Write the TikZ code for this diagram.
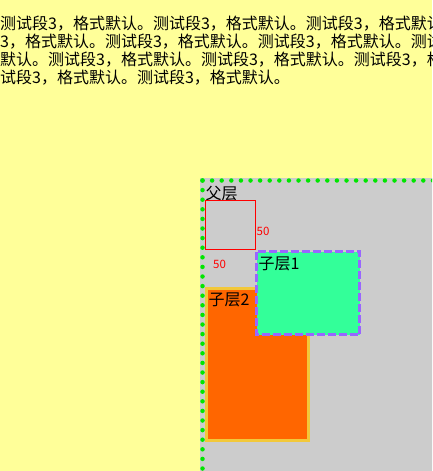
\documentclass[tikz,border=0pt]{standalone}
\usepackage{fontspec}
\newfontfamily\cjk{Noto Sans CJK SC}
\definecolor{bgyellow}{HTML}{FFFF99}
\definecolor{parentgray}{HTML}{CCCCCC}
\definecolor{dotgreen}{RGB}{0,230,0}
\definecolor{springgreen}{HTML}{33FF99}
\definecolor{dashpurple}{HTML}{9966FF}
\definecolor{layerorange}{HTML}{FF6600}
\definecolor{goldborder}{HTML}{F2C83A}
\definecolor{markred}{HTML}{FF0000}
\tikzset{
  bodytext/.style={anchor=base west,inner sep=0pt,font=\cjk\fontsize{16}{18}\selectfont,text=black},
  layertext/.style={anchor=base west,inner sep=0pt,font=\cjk\fontsize{16}{18}\selectfont,text=black},
  dimtext/.style={anchor=base west,inner sep=0pt,font=\cjk\fontsize{11.5}{13}\selectfont,text=markred},
  dotborder/.style={draw=dotgreen,line width=4.5pt,line cap=round,dash pattern=on 0pt off 9.6pt},
  dashborder/.style={draw=dashpurple,line width=3pt,dash pattern=on 8pt off 3pt},
}
\begin{document}
\begin{tikzpicture}[x=1pt,y=-1pt]
\useasboundingbox (0,0) rectangle (432,471);
\clip (0,0) rectangle (432,471);
\fill[bgyellow] (0,0) rectangle (432,471);
% body paragraph
\node[bodytext] (line1) at (0,29) {测试段3，格式默认。测试段3，格式默认。测试段3，格式默认。测试段};
\node[bodytext] (line2) at (0,47) {3，格式默认。测试段3，格式默认。测试段3，格式默认。测试段3，格式};
\node[bodytext] (line3) at (0,65) {默认。测试段3，格式默认。测试段3，格式默认。测试段3，格式默认。测};
\node[bodytext] (line4) at (0,83) {试段3，格式默认。测试段3，格式默认。};
% parent layer
\fill[parentgray] (200,178) rectangle (440,480);
\coordinate (pc) at (202.5,180.5);
\coordinate (pr) at (445,180.5);
\coordinate (pb) at (202.5,480);
\draw[dotborder] (pc) -- (pr);
\draw[dotborder] (pc) -- (pb);
\node[layertext] (parentlabel) at (205.5,199) {父层};
% red 50x50 square
\draw[markred,line width=1.1pt] (205.5,200.5) rectangle (255.5,249.5);
\node[dimtext] (dimright) at (256.5,235) {50};
\node[dimtext] (dimbottom) at (213,268) {50};
% child layer 2
\fill[layerorange] (206.5,288.5) rectangle (308.5,440.5);
\draw[goldborder,line width=3pt] (206.5,288.5) rectangle (308.5,440.5);
\node[layertext] (child2) at (208.5,305) {子层2};
% child layer 1
\fill[springgreen] (256.5,251.5) rectangle (359.5,334.5);
\draw[dashborder] (256.5,251.5) rectangle (359.5,334.5);
\node[layertext] (child1) at (258.5,269) {子层1};
\end{tikzpicture}
\end{document}
